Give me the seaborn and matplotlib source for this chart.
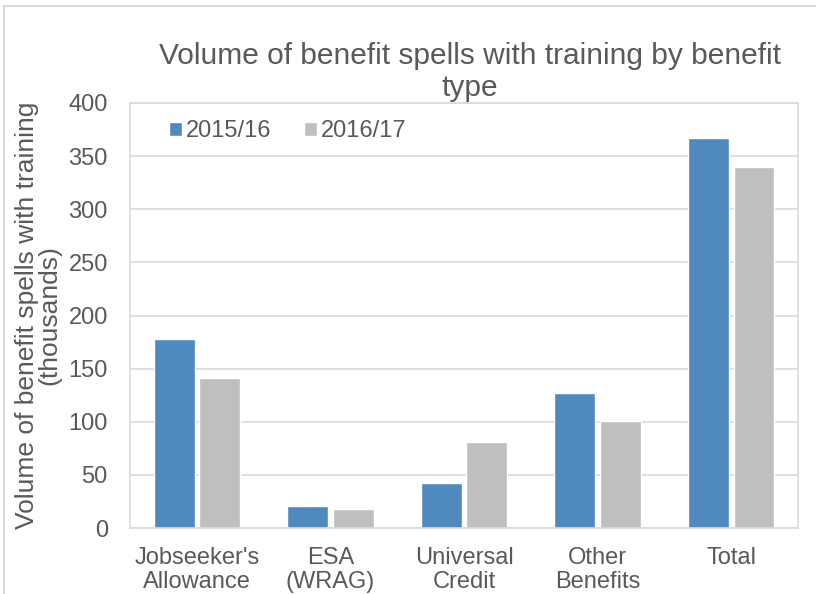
import pandas as pd
import matplotlib.pyplot as plt
import matplotlib.patches as mpatches
import seaborn as sns

# Chart data (thousands)
categories = ["Jobseeker's\nAllowance", "ESA\n(WRAG)", "Universal\nCredit", "Other\nBenefits", "Total"]
years = ["2015/16", "2016/17"]
spells_2015 = [178, 21, 42, 127, 367]
spells_2016 = [141, 18, 81, 101, 340]

df = pd.DataFrame({
    "category": categories * 2,
    "year": [years[0]] * len(categories) + [years[1]] * len(categories),
    "spells": spells_2015 + spells_2016,
})

sns.set_style("white")
plt.rcParams["font.family"] = ["Liberation Sans", "DejaVu Sans"]
text_col = "#595959"
grid_col = "#D9D9D9"

fig = plt.figure(figsize=(8.16, 5.94), dpi=100)
ax = fig.add_axes([0.1593, 0.1111, 0.8187, 0.7155])

sns.barplot(data=df, x="category", y="spells", hue="year", order=categories,
            palette=["#4F89BD", "#BFBFBF"], width=0.68, gap=0.1,
            saturation=1, ax=ax)

ax.set_ylim(0, 400)
ax.set_yticks(range(0, 401, 50))
ax.set_xlim(-0.5, len(categories) - 0.5)
ax.yaxis.grid(True, color=grid_col, linewidth=1.2)
ax.set_axisbelow(True)
for s in ax.spines.values():
    s.set_color(grid_col)
    s.set_linewidth(1.2)
ax.tick_params(axis="both", length=0, labelsize=17, colors=text_col)
ax.tick_params(axis="x", pad=13.5)
ax.tick_params(axis="y", pad=16)
for lab in ax.get_xticklabels():
    lab.set_linespacing(1.12)
ax.set_xlabel("")
ax.set_ylabel("Volume of benefit spells with training\n(thousands)", fontsize=19,
              color=text_col, linespacing=0.95)
ax.yaxis.set_label_coords(-0.102, 0.5)

ax.legend(loc="upper left", bbox_to_anchor=(0.027, 1.01), ncol=2, frameon=False,
          fontsize=17, handlelength=0.55, handleheight=0.55, handletextpad=0.17,
          columnspacing=1.35, labelcolor=text_col)

fig.suptitle("Volume of benefit spells with training by benefit\ntype", x=0.576, y=0.93,
             fontsize=21.5, color=text_col, linespacing=1.21)

# chart area border (cropped on right and bottom)
fig.patches.append(mpatches.Rectangle((4 / 816, -0.1), 1.2, 1 - 6 / 594 + 0.1,
                                      transform=fig.transFigure, fill=False,
                                      edgecolor=grid_col, linewidth=1.5))

fig.savefig("out.png", dpi=100)
